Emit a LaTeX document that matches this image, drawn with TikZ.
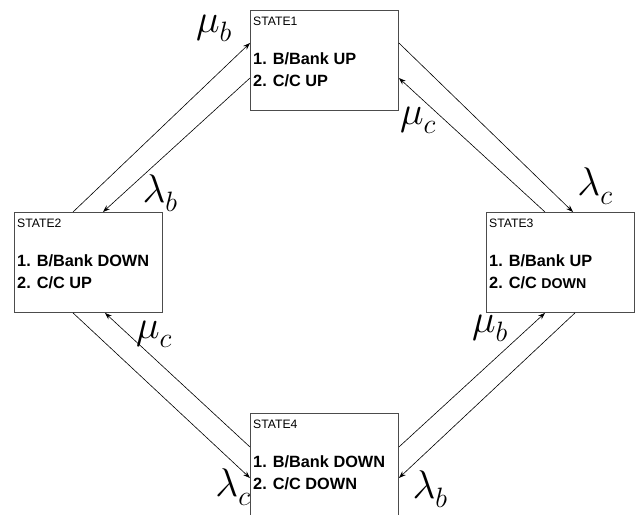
\RequirePackage{fix-cm}
\documentclass[tikz,border=0pt]{standalone}
\usepackage{fontspec}
\setmainfont{Liberation Sans}
\usetikzlibrary{arrows.meta,calc}

% rate symbol with a well-lowered subscript
\newcommand\ratelabel[2]{$#1_{\lower3pt\hbox{$\scriptstyle #2$}}$}

\begin{document}
\begin{tikzpicture}[x=1pt,y=-1pt,
  statebox/.style={draw=black!70, line width=0.9pt, minimum width=148pt,
    minimum height=100pt, inner sep=0pt, anchor=north west},
  tag/.style={font=\fontsize{12.2}{14}\selectfont, anchor=base west, inner sep=0pt},
  item/.style={font=\bfseries\fontsize{16.3}{19}\selectfont, anchor=base west, inner sep=0pt},
  rate/.style={font=\fontsize{40}{48}\selectfont, inner sep=0pt},
  link/.style={-{Stealth[length=7pt,width=5pt]}, line width=0.6pt}]

\useasboundingbox (0,0) rectangle (636,514);

% the four states
\node[statebox] (s1) at (250,10) {};
\node[statebox] (s2) at (14,212) {};
\node[statebox] (s3) at (486,212) {};
\node[statebox, minimum height=106pt] (s4) at (250,413) {};

\node[tag]  (s1t) at ($(s1.north west)+(3,15.4)$) {STATE1};
\node[item] (s1a) at ($(s1.north west)+(3,54)$) {1. B/Bank UP};
\node[item] (s1b) at ($(s1.north west)+(3,76.5)$) {2. C/C UP};

\node[tag]  (s2t) at ($(s2.north west)+(3,15.4)$) {STATE2};
\node[item] (s2a) at ($(s2.north west)+(3,54)$) {1. B/Bank DOWN};
\node[item] (s2b) at ($(s2.north west)+(3,76.5)$) {2. C/C UP};

\node[tag]  (s3t) at ($(s3.north west)+(3,15.4)$) {STATE3};
\node[item] (s3a) at ($(s3.north west)+(3,54)$) {1. B/Bank UP};
\node[item] (s3b) at ($(s3.north west)+(3,76.5)$) {2. C/C {\fontsize{14.2}{17}\selectfont DOWN}};

\node[tag]  (s4t) at ($(s4.north west)+(3,15.4)$) {STATE4};
\node[item] (s4a) at ($(s4.north west)+(3,54)$) {1. B/Bank DOWN};
\node[item] (s4b) at ($(s4.north west)+(3,76.5)$) {2. C/C DOWN};

% transitions between the states
\draw[link] ($(s2.north west)+(59,0)$) -- ($(s1.north west)+(0,33)$);
\draw[link] ($(s1.north west)+(0,68)$) -- ($(s2.north west)+(89,0)$);
\draw[link] ($(s1.north east)+(0,33)$) -- ($(s3.north west)+(87,0)$);
\draw[link] ($(s3.north west)+(59,0)$) -- ($(s1.north east)+(0,68)$);
\draw[link] ($(s2.south west)+(59,0)$) -- ($(s4.north west)+(0,65)$);
\draw[link] ($(s4.north west)+(0,34)$) -- ($(s2.south west)+(91,0)$);
\draw[link] ($(s4.north east)+(0,34)$) -- ($(s3.south west)+(59,0)$);
\draw[link] ($(s3.south west)+(89,0)$) -- ($(s4.north east)+(0,65)$);

% transition rates
\node[rate] (r1) at (214,28)  {\ratelabel{\mu}{b}};
\node[rate] (r2) at (160,193) {\ratelabel{\lambda}{b}};
\node[rate] (r3) at (418,120) {\ratelabel{\mu}{c}};
\node[rate] (r4) at (595,186) {\ratelabel{\lambda}{c}};
\node[rate] (r5) at (154,334) {\ratelabel{\mu}{c}};
\node[rate] (r6) at (233,487) {\ratelabel{\lambda}{c}};
\node[rate] (r7) at (490,328) {\ratelabel{\mu}{b}};
\node[rate] (r8) at (430,489) {\ratelabel{\lambda}{b}};
\end{tikzpicture}
\end{document}
